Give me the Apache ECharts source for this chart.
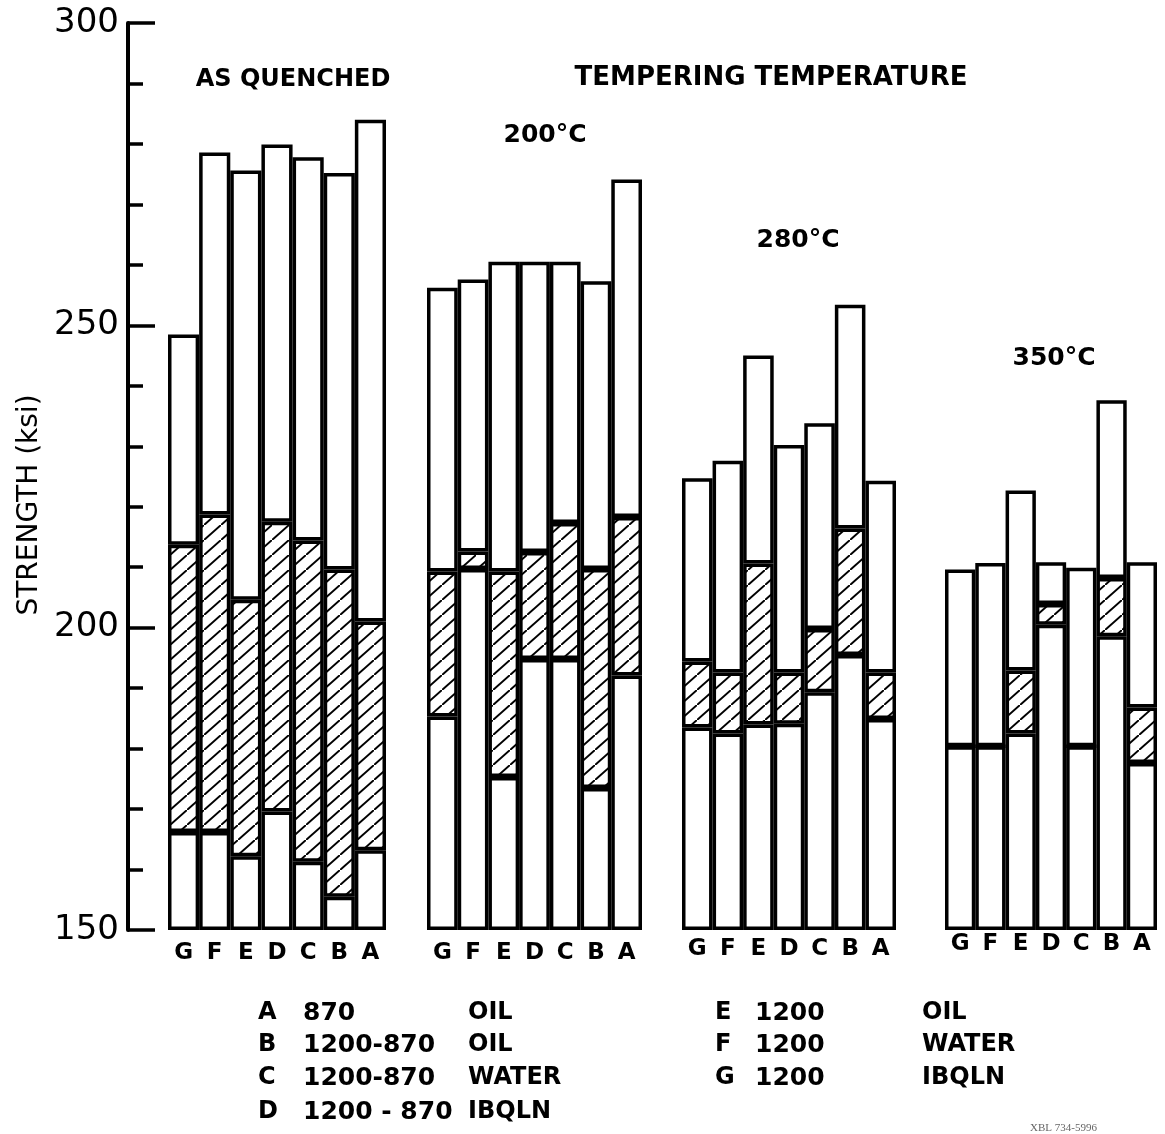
<!DOCTYPE html>
<html>
<head>
<meta charset="utf-8">
<script src="https://cdn.jsdelivr.net/npm/echarts@6/dist/echarts.min.js"></script>
<style>
html,body{margin:0;padding:0;background:#fff;}
#chart{width:1165px;height:1134px;}
</style>
</head>
<body>
<div id="chart"></div>
<script>
// ---- data (ksi) ----
const categories = ['G', 'F', 'E', 'D', 'C', 'B', 'A'];
const groupTitles = ['AS QUENCHED', '200°C', '280°C', '350°C'];
const yTickLabels = [150, 200, 250, 300];

// lower edge of hatched band, upper edge of hatched band, top of bar
const asQuenchedLow  = [166.2, 166.2, 162.2, 169.6, 161.3, 155.5, 163.2];
const asQuenchedHigh = [213.7, 218.7, 204.6, 217.5, 214.4, 209.6, 201.0];
const asQuenchedTop  = [248.5, 278.6, 275.6, 279.9, 277.8, 275.2, 284.0];

const temper200Low  = [185.3, 209.7, 175.3, 194.8, 194.8, 173.5, 192.1];
const temper200High = [209.3, 212.6, 209.3, 212.5, 217.3, 209.7, 218.3];
const temper200Top  = [256.2, 257.6, 260.5, 260.5, 260.5, 257.3, 274.1];

const temper280Low  = [183.5, 182.5, 184.0, 184.1, 189.3, 195.5, 184.9];
const temper280High = [194.4, 192.6, 210.6, 192.6, 199.8, 216.4, 192.6];
const temper280Top  = [224.7, 227.6, 245.0, 230.2, 233.8, 253.4, 224.3];

const temper350Low  = [180.4, 180.4, 182.5, 200.5, 180.4, 198.6, 177.6];
const temper350High = [180.4, 180.4, 192.9, 203.9, 180.4, 208.2, 186.8];
const temper350Top  = [209.6, 210.7, 222.7, 210.8, 209.9, 237.6, 210.8];

const legendLetters = ['A', 'B', 'C', 'D', 'E', 'F', 'G'];
const legendTemps   = ['870', '1200-870', '1200-870', '1200 - 870', '1200', '1200', '1200'];
const legendMedia   = ['OIL', 'OIL', 'WATER', 'IBQLN', 'OIL', 'WATER', 'IBQLN'];

const groups = [
  [asQuenchedLow, asQuenchedHigh, asQuenchedTop],
  [temper200Low, temper200High, temper200Top],
  [temper280Low, temper280High, temper280Top],
  [temper350Low, temper350High, temper350Top]
];

// ---- hatch pattern ----
function makeHatch() {
  const w = 17, h = 15;
  const c = document.createElement('canvas');
  c.width = w; c.height = h;
  const ctx = c.getContext('2d');
  ctx.fillStyle = '#fff';
  ctx.fillRect(0, 0, w, h);
  ctx.strokeStyle = '#000';
  ctx.lineWidth = 2;
  [[0, 0], [-w, h], [w, -h]].forEach(function (o) {
    ctx.beginPath();
    ctx.moveTo(o[0], h + o[1]);
    ctx.lineTo(w + o[0], o[1]);
    ctx.stroke();
  });
  return c;
}
const hatch = { image: makeHatch(), repeat: 'repeat' };

const FONT = 'DejaVu Sans';
const gridPos = [
  { left: 168, width: 218 },
  { left: 427, width: 215 },
  { left: 682, width: 214 },
  { left: 945, width: 212 }
];
const labelMargins = [12, 12, 8, 3];
const BW = 3.5;

const grids = [], xAxes = [], yAxes = [], series = [];
gridPos.forEach(function (g, i) {
  grids.push({ left: g.left, width: g.width, top: 23, height: 907, containLabel: false, outerBoundsMode: 'none' });
  xAxes.push({
    type: 'category', gridIndex: i, data: categories,
    axisLine: { show: false }, axisTick: { show: false },
    axisLabel: { color: '#000', fontFamily: FONT, fontWeight: 'bold', fontSize: 23, margin: labelMargins[i] }
  });
  yAxes.push({
    type: 'value', gridIndex: i, min: 150, max: 300, interval: 50, startValue: 150,
    show: i === 0,
    offset: 40,
    axisLine: { show: true, lineStyle: { color: '#000', width: 4 } },
    axisTick: { show: true, inside: true, length: 27, lineStyle: { color: '#000', width: 3.5 } },
    minorTick: { show: true, splitNumber: 5, length: 15, lineStyle: { color: '#000', width: 3.5 } },
    splitLine: { show: false },
    minorSplitLine: { show: false },
    axisLabel: {
      color: '#000', fontFamily: FONT, fontSize: 34, margin: 9,
      formatter: function (v) { return yTickLabels.indexOf(v) >= 0 ? String(v) : ''; }
    }
  });
  const low = groups[i][0], high = groups[i][1], top = groups[i][2];
  const base = { type: 'bar', xAxisIndex: i, yAxisIndex: i, stack: 'g' + i, barCategoryGap: '0%', barGap: '0%', silent: true, animation: false };
  series.push(Object.assign({}, base, {
    name: groupTitles[i] + ' low',
    data: low.slice(),
    itemStyle: { color: '#fff', borderColor: '#000', borderWidth: BW }
  }));
  series.push(Object.assign({}, base, {
    name: groupTitles[i] + ' band',
    data: high.map(function (v, k) { return +(v - low[k]).toFixed(2); }),
    itemStyle: { color: hatch, borderColor: '#000', borderWidth: BW }
  }));
  series.push(Object.assign({}, base, {
    name: groupTitles[i] + ' top',
    data: top.map(function (v, k) { return +(v - high[k]).toFixed(2); }),
    itemStyle: { color: '#fff', borderColor: '#000', borderWidth: BW }
  }));
});

// ---- text ----
const txt = function (text, x, y, size, align, extra, weight) {
  return Object.assign({
    type: 'text', x: x, y: y,
    style: { text: text, fill: '#000', font: (weight || 'bold') + ' ' + size + 'px "' + FONT + '"', textAlign: align || 'left', textVerticalAlign: 'middle' }
  }, extra || {});
};
const graphics = [
  txt(groupTitles[0], 293, 80, 24, 'center'),
  txt('TEMPERING TEMPERATURE', 771, 78, 26, 'center'),
  txt(groupTitles[1], 545, 135, 25, 'center'),
  txt(groupTitles[2], 798, 240, 25, 'center'),
  txt(groupTitles[3], 1054, 358, 25, 'center'),
  txt('STRENGTH (ksi)', 30, 505, 28, 'center', { rotation: Math.PI / 2 }, 'normal')
];
const rowsY = [1013, 1045, 1078, 1112];
legendLetters.forEach(function (l, k) {
  const left = k < 4;
  const y = rowsY[left ? k : k - 4];
  graphics.push(txt(l, left ? 258 : 715, y, 24));
  graphics.push(txt(legendTemps[k], left ? 303 : 755, y, 25));
  graphics.push(txt(legendMedia[k], left ? 468 : 922, y, 24));
});
graphics.push({ type: 'text', x: 1030, y: 1128, style: { text: 'XBL 734-5996', fill: '#666', font: '11px "Liberation Serif"', textVerticalAlign: 'middle' } });

const chart = echarts.init(document.getElementById('chart'), null, { renderer: 'canvas' });
chart.setOption({
  backgroundColor: '#fff',
  animation: false,
  tooltip: { show: false },
  legend: { show: false },
  grid: grids,
  xAxis: xAxes,
  yAxis: yAxes,
  series: series,
  graphic: graphics
});
</script>
</body>
</html>
